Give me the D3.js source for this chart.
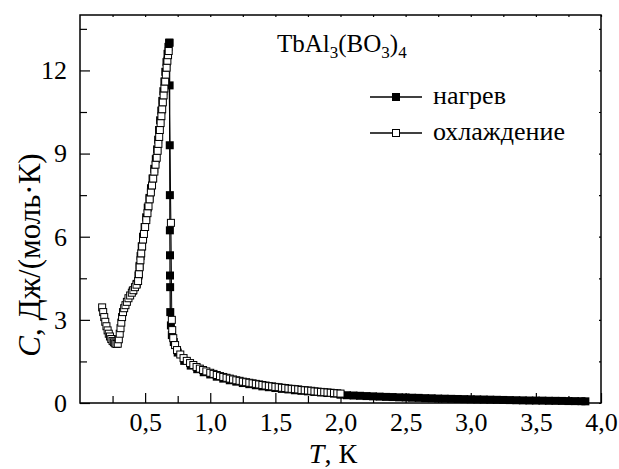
<!DOCTYPE html>
<html>
<head>
<meta charset="utf-8">
<script src="https://cdn.jsdelivr.net/npm/d3@7"></script>
<style>
  body { margin: 0; background: #fff; }
  text { font-family: 'Liberation Serif', 'Times New Roman', serif; fill: #000; }
</style>
</head>
<body>
<script>
// cooling run (open squares), T in K, C in J/(mol K)
var coolT = [0.170, 0.178, 0.186, 0.194, 0.203, 0.212, 0.221, 0.230, 0.240, 0.250, 0.260, 0.270, 0.280, 0.290,
  0.298, 0.305, 0.311, 0.317, 0.323, 0.330, 0.339, 0.349, 0.360, 0.372, 0.385, 0.398, 0.410, 0.422, 0.434, 0.446,
  0.452, 0.458, 0.464, 0.470, 0.477, 0.484, 0.491, 0.500, 0.509, 0.518, 0.526, 0.535, 0.544, 0.553, 0.562, 0.571,
  0.580, 0.589, 0.596, 0.602, 0.608, 0.613, 0.619, 0.625, 0.631, 0.636, 0.642, 0.648, 0.654, 0.659, 0.665, 0.671,
  0.676, 0.681, 0.698, 0.705, 0.708, 0.716, 0.730, 0.745, 0.770, 0.795, 0.820, 0.845, 0.870, 0.895, 0.920, 0.945,
  0.970, 1.000, 1.025, 1.050, 1.075, 1.100, 1.125, 1.150, 1.175, 1.200, 1.225, 1.250, 1.275, 1.300, 1.325, 1.350,
  1.375, 1.400, 1.425, 1.450, 1.475, 1.500, 1.525, 1.550, 1.575, 1.600, 1.625, 1.650, 1.675, 1.700, 1.725, 1.750,
  1.775, 1.800, 1.825, 1.850, 1.875, 1.900, 1.925, 1.950, 1.975, 2.000]
var coolC = [3.45, 3.28, 3.10, 2.93, 2.77, 2.62, 2.50, 2.40, 2.31, 2.24, 2.19, 2.15, 2.13, 2.14,
  2.30, 2.50, 2.70, 2.90, 3.10, 3.28, 3.42, 3.53, 3.65, 3.78, 3.88, 3.98, 4.07, 4.18, 4.27, 4.40,
  4.65, 4.90, 5.15, 5.40, 5.65, 5.90, 6.10, 6.35, 6.60, 6.85, 7.10, 7.35, 7.60, 7.85, 8.10, 8.35,
  8.60, 8.85, 9.10, 9.35, 9.60, 9.85, 10.10, 10.35, 10.60, 10.85, 11.10, 11.35, 11.60, 11.85, 12.10, 12.35,
  12.55, 12.70, 6.50, 3.00, 2.63, 2.34, 2.09, 1.91, 1.75, 1.62, 1.52, 1.44, 1.37, 1.30, 1.24, 1.19,
  1.14, 1.09, 1.05, 1.01, 0.97, 0.94, 0.91, 0.88, 0.85, 0.82, 0.80, 0.77, 0.75, 0.73, 0.71, 0.69,
  0.67, 0.65, 0.63, 0.61, 0.60, 0.58, 0.57, 0.55, 0.54, 0.52, 0.51, 0.50, 0.49, 0.47, 0.46, 0.45,
  0.44, 0.42, 0.41, 0.40, 0.39, 0.38, 0.37, 0.36, 0.35, 0.34]

// heating run (filled squares)
var heatT = [0.405, 0.435, 0.449, 0.457, 0.465, 0.474, 0.484, 0.496, 0.508, 0.520, 0.533, 0.545, 0.557, 0.570,
  0.582, 0.592, 0.600, 0.607, 0.615, 0.624, 0.632, 0.640, 0.648, 0.655, 0.664, 0.672, 0.679, 0.684, 0.688,
  0.688, 0.689, 0.690, 0.690, 0.691, 0.691, 0.692, 0.693, 0.698, 0.705, 0.720, 0.750, 0.800, 0.850, 0.900,
  0.950, 1.000, 1.050, 1.100, 1.150, 1.200, 1.250, 1.300, 1.350, 1.400, 1.450, 1.500, 1.550, 1.600, 1.650,
  1.700, 1.750, 1.800, 1.850, 1.900, 1.950, 2.000, 2.050, 2.100, 2.150, 2.200, 2.250, 2.300, 2.350, 2.400,
  2.450, 2.500, 2.550, 2.600, 2.650, 2.700, 2.750, 2.800, 2.850, 2.900, 2.950, 3.000, 3.050, 3.100, 3.150,
  3.200, 3.250, 3.300, 3.350, 3.400, 3.450, 3.500, 3.550, 3.600, 3.650, 3.700, 3.750, 3.800, 3.850, 3.880]
var heatC = [4.05, 4.30, 4.60, 4.95, 5.30, 5.65, 6.00, 6.35, 6.70, 7.05, 7.40, 7.75, 8.10, 8.45,
  8.80, 9.15, 9.50, 9.85, 10.20, 10.55, 10.90, 11.25, 11.60, 11.95, 12.30, 12.60, 12.85, 13.00, 13.00,
  11.46, 9.30, 7.50, 6.23, 5.33, 4.60, 4.18, 3.28, 2.80, 2.45, 2.20, 1.82, 1.52, 1.35, 1.22,
  1.11, 1.03, 0.95, 0.88, 0.82, 0.77, 0.72, 0.68, 0.64, 0.60, 0.57, 0.54, 0.51, 0.49, 0.46,
  0.44, 0.42, 0.40, 0.38, 0.36, 0.34, 0.30, 0.28, 0.27, 0.26, 0.25, 0.24, 0.23, 0.22, 0.215,
  0.205, 0.20, 0.19, 0.185, 0.175, 0.17, 0.16, 0.155, 0.15, 0.145, 0.14, 0.135, 0.13, 0.125, 0.12,
  0.115, 0.11, 0.105, 0.10, 0.095, 0.09, 0.088, 0.085, 0.08, 0.078, 0.075, 0.07, 0.068, 0.065, 0.06]

var xMajor = [0.5, 1.0, 1.5, 2.0, 2.5, 3.0, 3.5, 4.0]
var xMinor = [0.25, 0.75, 1.25, 1.75, 2.25, 2.75, 3.25, 3.75]
var yMajor = [0, 3, 6, 9, 12]
var yMinor = [1.5, 4.5, 7.5, 10.5, 13.5]

var seriesNames = ['нагрев', 'охлаждение']

var width = 619
var height = 469
var margin = {top: 15, right: 18, bottom: 66, left: 80}

var svg = d3.select('body')
  .append('svg')
    .attr('width', width)
    .attr('height', height)

var x = d3.scaleLinear()
  .domain([0, 4])
  .range([margin.left, width - margin.right])

var y = d3.scaleLinear()
  .domain([0, 14])
  .range([height - margin.bottom, margin.top])

var commaFmt = function(d) { return d3.format('.1f')(d).replace('.', ',') }

// frame
svg.append('rect')
  .attr('x', x(0))
  .attr('y', y(14))
  .attr('width', x(4) - x(0))
  .attr('height', y(0) - y(14))
  .attr('fill', 'none')
  .attr('stroke', '#000')
  .attr('stroke-width', 1.5)

function styleAxis(g) {
  g.attr('font-family', null)
  g.select('.domain').remove()
  g.selectAll('line').attr('stroke', '#000').attr('stroke-width', 1.2)
  g.selectAll('text').style('font-size', '26px').attr('fill', '#000')
}

// bottom axis, ticks pointing inside
svg.append('g')
  .attr('transform', 'translate(0,' + y(0) + ')')
  .call(d3.axisBottom(x).tickValues(xMajor).tickSizeInner(-10).tickSizeOuter(0).tickPadding(10).tickFormat(commaFmt))
  .call(styleAxis)

svg.append('g')
  .attr('transform', 'translate(0,' + y(0) + ')')
  .call(d3.axisBottom(x).tickValues(xMinor).tickSizeInner(-7).tickSizeOuter(0).tickFormat(''))
  .call(styleAxis)

// top axis, short ticks
svg.append('g')
  .attr('transform', 'translate(0,' + y(14) + ')')
  .call(d3.axisTop(x).tickValues(xMajor.concat(xMinor)).tickSizeInner(-2).tickSizeOuter(0).tickFormat(''))
  .call(styleAxis)

// left axis
svg.append('g')
  .attr('transform', 'translate(' + x(0) + ',0)')
  .call(d3.axisLeft(y).tickValues(yMajor).tickSizeInner(-10).tickSizeOuter(0).tickPadding(13).tickFormat(d3.format('d')))
  .call(styleAxis)

svg.append('g')
  .attr('transform', 'translate(' + x(0) + ',0)')
  .call(d3.axisLeft(y).tickValues(yMinor).tickSizeInner(-7).tickSizeOuter(0).tickFormat(''))
  .call(styleAxis)

// right axis, short ticks
svg.append('g')
  .attr('transform', 'translate(' + x(4) + ',0)')
  .call(d3.axisRight(y).tickValues(yMajor.concat(yMinor)).tickSizeInner(-2).tickSizeOuter(0).tickFormat(''))
  .call(styleAxis)

// data
var heat = heatT.map(function(t, i) { return [t, heatC[i]] })
var cool = coolT.map(function(t, i) { return [t, coolC[i]] })

var line = d3.line()
  .x(function(d) { return x(d[0]) })
  .y(function(d) { return y(d[1]) })

var ms = 8

svg.append('path')
  .datum(heat)
  .attr('d', line)
  .attr('fill', 'none')
  .attr('stroke', '#000')
  .attr('stroke-width', 1.3)

svg.append('g').selectAll('rect')
    .data(heat)
  .enter().append('rect')
    .attr('x', function(d) { return x(d[0]) - ms / 2 })
    .attr('y', function(d) { return y(d[1]) - ms / 2 })
    .attr('width', ms)
    .attr('height', ms)
    .attr('fill', '#000')

svg.append('path')
  .datum(cool)
  .attr('d', line)
  .attr('fill', 'none')
  .attr('stroke', '#000')
  .attr('stroke-width', 1)

svg.append('g').selectAll('rect')
    .data(cool)
  .enter().append('rect')
    .attr('x', function(d) { return x(d[0]) - (ms - 1) / 2 })
    .attr('y', function(d) { return y(d[1]) - (ms - 1) / 2 })
    .attr('width', ms - 1)
    .attr('height', ms - 1)
    .attr('fill', '#fff')
    .attr('stroke', '#000')
    .attr('stroke-width', 1)

// title
var title = svg.append('text')
  .attr('x', 277)
  .attr('y', 52)
  .style('font-size', '25px')
title.append('tspan').text('TbAl')
title.append('tspan').attr('dy', 6).style('font-size', '17px').text('3')
title.append('tspan').attr('dy', -6).text('(BO')
title.append('tspan').attr('dy', 6).style('font-size', '17px').text('3')
title.append('tspan').attr('dy', -6).text(')')
title.append('tspan').attr('dy', 6).style('font-size', '17px').text('4')

// legend
var legend = svg.append('g')
  .selectAll('g')
    .data(seriesNames)
  .enter().append('g')
    .attr('transform', function(d, i) { return 'translate(370,' + (97 + i * 36) + ')' })

legend.append('line')
  .attr('x1', 0).attr('x2', 52)
  .attr('stroke', '#000')
  .attr('stroke-width', 1.3)

legend.append('rect')
  .attr('x', function(d, i) { return i === 0 ? 22 : 22.5 })
  .attr('y', function(d, i) { return i === 0 ? -4 : -3.5 })
  .attr('width', function(d, i) { return i === 0 ? 8 : 7 })
  .attr('height', function(d, i) { return i === 0 ? 8 : 7 })
  .attr('fill', function(d, i) { return i === 0 ? '#000' : '#fff' })
  .attr('stroke', function(d, i) { return i === 0 ? 'none' : '#000' })
  .attr('stroke-width', 1)

legend.append('text')
  .attr('x', 63)
  .attr('y', 7)
  .style('font-size', '26px')
  .text(function(d) { return d })

// axis titles
var xt = svg.append('text')
  .attr('x', 333)
  .attr('y', 463)
  .attr('text-anchor', 'middle')
  .style('font-size', '28px')
xt.append('tspan').style('font-style', 'italic').text('T')
xt.append('tspan').text(', К')

var yt = svg.append('text')
  .attr('transform', 'translate(40,' + 255 + ') rotate(-90)')
  .attr('text-anchor', 'middle')
  .style('font-size', '31px')
yt.append('tspan').style('font-style', 'italic').text('C')
yt.append('tspan').text(', Дж/(моль·К)')
</script>
</body>
</html>
